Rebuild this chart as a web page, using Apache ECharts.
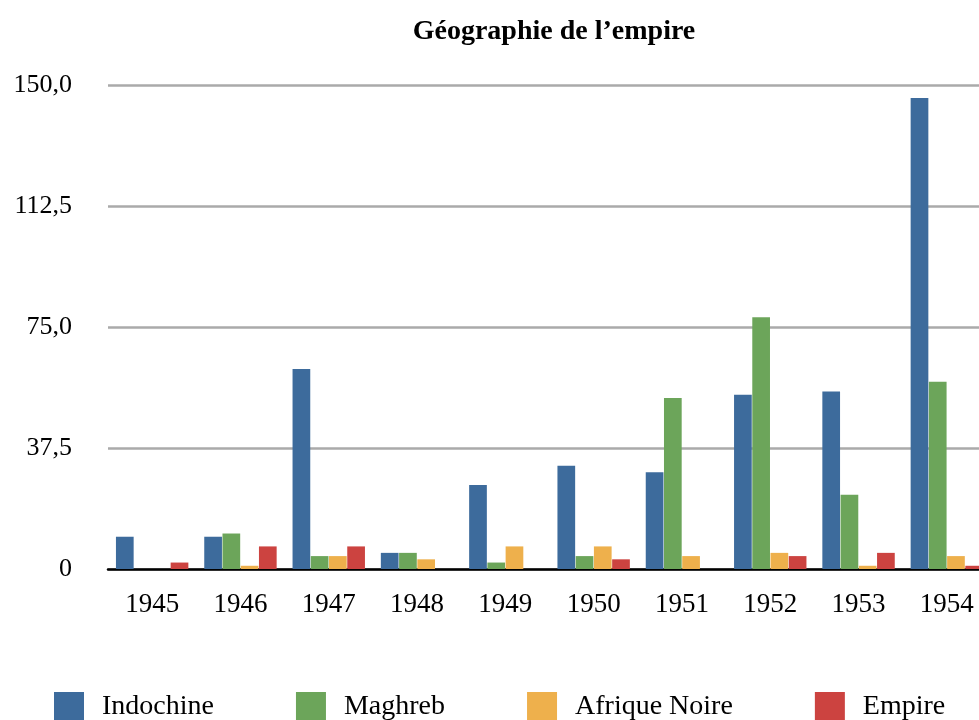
<!DOCTYPE html>
<html>
<head>
<meta charset="utf-8">
<script src="https://cdn.jsdelivr.net/npm/echarts@6/dist/echarts.min.js"></script>
<style>
  html, body { margin: 0; padding: 0; background: #fff; overflow: hidden; }
  #chart { width: 979px; height: 720px; }
</style>
</head>
<body>
<div id="chart"></div>
<script>
// années (axe x)
var years = ['1945', '1946', '1947', '1948', '1949', '1950', '1951', '1952', '1953', '1954'];
// valeurs par région
var indochine = [10, 10, 62, 5, 26, 32, 30, 54, 55, 146];
var maghreb = [0, 11, 4, 5, 2, 4, 53, 78, 23, 58];
var afriqueNoire = [0, 1, 4, 3, 7, 7, 4, 5, 1, 4];
var empire = [2, 7, 7, 0, 0, 3, 0, 4, 5, 1];
var seriesNames = ['Indochine', 'Maghreb', 'Afrique Noire', 'Empire'];
var colors = ['#3d6b9c', '#6ca55a', '#eeb04c', '#cc4340'];

var serif = '"Liberation Serif", "DejaVu Serif", serif';

function barSerie(name, data) {
  return {
    name: name,
    type: 'bar',
    data: data,
    barGap: '3%',
    barCategoryGap: '18%'
  };
}

var chart = echarts.init(document.getElementById('chart'));
chart.setOption({
  animation: false,
  color: colors,
  title: {
    text: 'Géographie de l\u2019empire',
    left: 549,
    top: 13,
    textAlign: 'center',
    textStyle: { fontFamily: serif, fontSize: 28, fontWeight: 'bold', color: '#000' }
  },
  legend: {
    data: seriesNames,
    left: 49,
    top: 687,
    itemWidth: 30,
    itemHeight: 30,
    itemGap: 82,
    icon: 'rect',
    textStyle: { fontFamily: serif, fontSize: 28, color: '#000', padding: [0, 0, 0, 13] }
  },
  grid: {
    left: 108,
    right: -12,
    top: 85,
    bottom: 151,
    containLabel: false,
    outerBoundsMode: 'none'
  },
  xAxis: {
    type: 'category',
    data: years,
    axisLine: { lineStyle: { color: '#000', width: 2.5 } },
    axisTick: { show: false },
    axisLabel: { fontFamily: serif, fontSize: 27, color: '#000', margin: 22 }
  },
  yAxis: {
    type: 'value',
    min: 0,
    max: 150,
    interval: 37.5,
    axisLine: { show: false },
    axisTick: { show: false },
    splitLine: { lineStyle: { color: '#aaaaaa', width: 2.5 } },
    axisLabel: {
      fontFamily: serif,
      fontSize: 26,
      color: '#000',
      margin: 36,
      formatter: function (v) {
        return v === 0 ? '0' : v.toFixed(1).replace('.', ',');
      }
    }
  },
  series: [
    barSerie(seriesNames[0], indochine),
    barSerie(seriesNames[1], maghreb),
    barSerie(seriesNames[2], afriqueNoire),
    barSerie(seriesNames[3], empire)
  ]
});
</script>
</body>
</html>
